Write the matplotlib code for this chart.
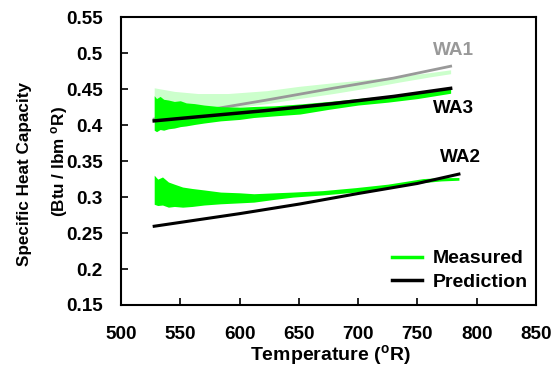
import matplotlib
matplotlib.use("Agg")
import matplotlib.pyplot as plt

plt.rcParams['font.family'] = ['Liberation Sans', 'DejaVu Sans']
plt.rcParams['font.weight'] = 'bold'
plt.rcParams['mathtext.fontset'] = 'custom'
plt.rcParams['mathtext.rm'] = 'Liberation Sans:bold'
plt.rcParams['mathtext.it'] = 'Liberation Sans:bold'
plt.rcParams['mathtext.bf'] = 'Liberation Sans:bold'

# ---- Data ----
# WA1 measured band (light green)
wa1_T = [528, 545, 565, 590, 623, 650, 679, 705, 735, 760, 778]
wa1_hi = [0.452, 0.447, 0.444, 0.444, 0.448, 0.454, 0.459, 0.463, 0.468, 0.473, 0.477]
wa1_lo = [0.410, 0.414, 0.418, 0.423, 0.430, 0.437, 0.444, 0.451, 0.460, 0.467, 0.4716]
# WA1 prediction (gray)
wa1p_T = [528, 578, 623, 679, 730, 778]
wa1p_v = [0.4085, 0.4225, 0.435, 0.4514, 0.4655, 0.482]

# WA3 measured band (bright green)
wa3_T = [528, 530, 533, 536, 540, 545, 550, 555, 562, 570, 584, 600, 612, 630, 651, 675, 700, 725, 750, 778]
wa3_hi = [0.441, 0.437, 0.440, 0.436, 0.435, 0.433, 0.434, 0.431, 0.430, 0.428, 0.4257, 0.425, 0.426,
          0.427, 0.4295, 0.433, 0.437, 0.441, 0.446, 0.451]
wa3_lo = [0.393, 0.391, 0.394, 0.393, 0.395, 0.396, 0.398, 0.399, 0.401, 0.403, 0.406, 0.408, 0.4107,
          0.413, 0.4155, 0.422, 0.428, 0.432, 0.437, 0.4444]
# WA3 prediction (black)
wa3p_T = [528, 567, 620, 679, 730, 778]
wa3p_v = [0.406, 0.412, 0.420, 0.430, 0.440, 0.4512]

# WA2 measured band (bright green)
wa2_T = [528, 531, 535, 540, 545, 552, 560, 570, 584, 600, 612, 630, 645, 670, 698, 725, 755, 770, 785]
wa2_hi = [0.3305, 0.325, 0.328, 0.321, 0.318, 0.314, 0.312, 0.310, 0.307, 0.306, 0.3047, 0.306, 0.307,
          0.309, 0.3132, 0.318, 0.3258, 0.327, 0.3272]
wa2_lo = [0.290, 0.2883, 0.289, 0.286, 0.287, 0.286, 0.287, 0.289, 0.2907, 0.292, 0.293, 0.297, 0.300,
          0.303, 0.307, 0.312, 0.3202, 0.3225, 0.3235]
# WA2 prediction (black)
wa2p_T = [528, 600, 651, 700, 750, 785]
wa2p_v = [0.2595, 0.277, 0.2905, 0.305, 0.319, 0.332]

xticks = [500, 550, 600, 650, 700, 750, 800, 850]
yticks = [0.15, 0.2, 0.25, 0.3, 0.35, 0.4, 0.45, 0.5, 0.55]
ytick_labels = ['0.15', '0.2', '0.25', '0.3', '0.35', '0.4', '0.45', '0.5', '0.55']

# ---- Figure ----
W, H = 558, 367
fig = plt.figure(figsize=(W/100, H/100), dpi=100)
ax = fig.add_axes([121/W, 1-305/H, (536-121)/W, (305-17.3)/H])

light = '#ccffcc'
bright = '#00ff00'

ax.fill_between(wa1_T, wa1_lo, wa1_hi, color=light, lw=0, zorder=1)
ax.plot(wa1p_T, wa1p_v, color='#999999', lw=2, zorder=2)
ax.fill_between(wa3_T, wa3_lo, wa3_hi, color=bright, lw=0, zorder=3)
ax.plot(wa3p_T, wa3p_v, color='black', lw=2.5, zorder=4)
ax.fill_between(wa2_T, wa2_lo, wa2_hi, color=bright, lw=0, zorder=3)
ax.plot(wa2p_T, wa2p_v, color='black', lw=2.2, zorder=4)

# legend proxies
h1, = ax.plot([], [], color=bright, lw=2.5, label='Measured')
h2, = ax.plot([], [], color='black', lw=2.5, label='Prediction')
ax.legend(handles=[h1, h2], loc='lower right', bbox_to_anchor=(0.981, 0.049),
          frameon=False, fontsize=14, handlelength=1.55, handletextpad=0.58,
          borderpad=0, borderaxespad=0, labelspacing=0.3)

ax.text(763, 0.5044, 'WA1', color='#999999', fontsize=13.6, fontweight='bold', va='center', ha='left')
ax.text(763, 0.4229, 'WA3', color='black', fontsize=13.6, fontweight='bold', va='center', ha='left')
ax.text(769, 0.3545, 'WA2', color='black', fontsize=13.6, fontweight='bold', va='center', ha='left')

ax.set_xlim(500, 850)
ax.set_ylim(0.15, 0.55)
ax.set_xticks(xticks)
ax.set_xticklabels([str(t) for t in xticks])
ax.set_yticks(yticks)
ax.set_yticklabels(ytick_labels)
ax.tick_params(axis='both', direction='in', length=5, width=1.2, labelsize=13.6, top=False, right=False)
ax.tick_params(axis='x', pad=15)
ax.tick_params(axis='y', pad=13)
for s in ax.spines.values():
    s.set_linewidth(1.5)

fig.text(330/W, 1-355/H, r'Temperature ($^{\mathrm{o}}$R)', fontsize=14, fontweight='bold',
         ha='center', va='center')
fig.text(24/W, 1-174/H, 'Specific Heat Capacity', fontsize=12.3, fontweight='bold',
         rotation=90, ha='center', va='center')
fig.text(59/W, 1-162/H, r'(Btu / lbm $^{\mathrm{o}}$R)', fontsize=12.3, fontweight='bold',
         rotation=90, ha='center', va='center')

fig.savefig('out.png', dpi=100)
